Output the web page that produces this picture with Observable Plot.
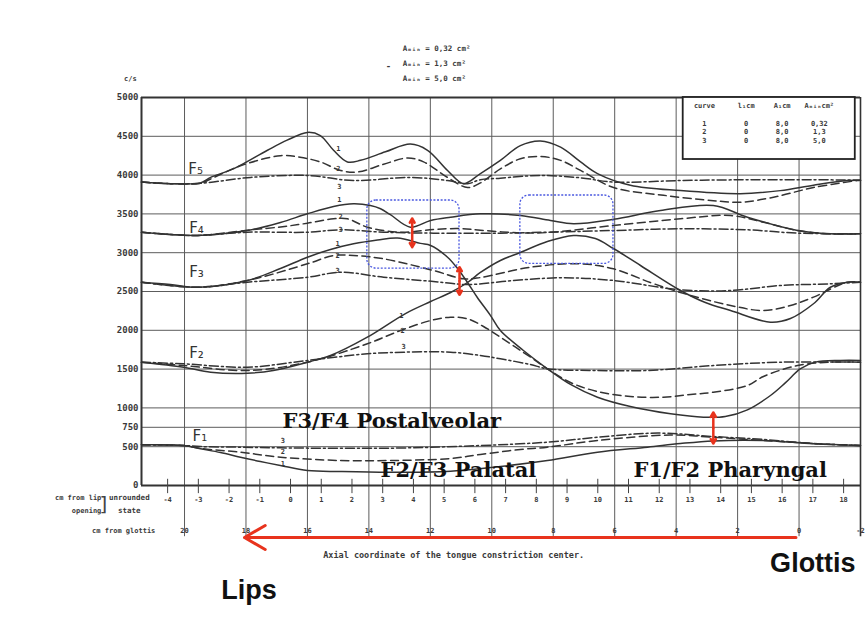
<!DOCTYPE html>
<html><head><meta charset="utf-8">
<script src="https://cdn.jsdelivr.net/npm/d3@7"></script>
<script src="https://cdn.jsdelivr.net/npm/@observablehq/plot@0.6"></script>
<style>html,body{margin:0;padding:0;background:#fff;}</style>
</head><body><div id="chart"></div>
<script>
// ---- scale ticks (x in cm from glottis, y in c/s) ----
const yTicks = [0, 500, 750, 1000, 1500, 2000, 2500, 3000, 3500, 4000, 4500, 5000];
const glottisTicks = [20, 18, 16, 14, 12, 10, 8, 6, 4, 2, 0, -2];
const lipTicks = [-4,-3,-2,-1,0,1,2,3,4,5,6,7,8,9,10,11,12,13,14,15,16,17,18];
const LIP_ZERO = 16.55; // cm from glottis where lip coordinate is 0

// ---- formant curves: [cm from glottis, c/s] ; curve 1 solid, 2 dashed, 3 dash-dot ----
const F5_1 = [[21.4,3910],[20.46,3890],[19.48,3900],[19.15,3970],[18.41,4080],[17.3,4320],[16.66,4450],[16.0,4550],[15.58,4510],[15.15,4320],[14.7,4170],[14.27,4190],[13.46,4300],[12.65,4400],[12.09,4320],[11.44,4060],[10.92,3890],[10.37,4020],[9.72,4190],[9.07,4380],[8.42,4440],[7.76,4360],[7.11,4170],[6.56,4020],[5.49,3870],[3.86,3800],[1.91,3760],[0.61,3800],[-0.47,3870],[-1.57,3930],[-2.0,3935]];
const F5_2 = [[21.4,3910],[20.46,3890],[19.48,3895],[19.15,3950],[18.18,4120],[16.88,4250],[16.24,4230],[15.58,4170],[14.92,4060],[14.37,4040],[13.52,4140],[12.74,4220],[12.22,4170],[11.44,3970],[10.79,3840],[10.37,3900],[9.72,4080],[9.07,4210],[8.42,4240],[7.76,4190],[7.11,4060],[6.04,3840],[4.41,3740],[2.79,3670],[1.91,3650],[0.83,3715],[-0.47,3840],[-1.9,3930],[-2.0,3935]];
const F5_3 = [[21.4,3910],[20.46,3890],[19.48,3895],[17.85,3970],[16.0,3995],[14.5,3930],[12.65,3970],[11.44,3930],[10.79,3890],[10.37,3940],[9.72,3960],[8.42,3995],[7.11,3965],[6.04,3910],[3.86,3930],[1.68,3940],[-0.47,3940],[-2.0,3935]];
const F4_1 = [[21.4,3264],[20.46,3235],[19.58,3222],[17.95,3286],[16.88,3389],[16.0,3501],[15.15,3595],[14.5,3630],[13.95,3608],[13.62,3566],[13.3,3490],[12.65,3329],[11.99,3415],[11.34,3457],[10.37,3501],[9.07,3480],[8.09,3415],[7.34,3372],[6.04,3430],[4.51,3544],[2.79,3608],[1.68,3457],[0.05,3286],[-1.02,3243],[-2.0,3243]];
const F4_2 = [[21.4,3264],[20.46,3235],[19.58,3222],[17.95,3290],[16.81,3335],[16.0,3380],[15.15,3437],[14.7,3437],[14.05,3329],[12.97,3264],[11.9,3300],[11.02,3310],[10.37,3290],[9.07,3255],[8.19,3260],[6.04,3350],[3.86,3437],[2.23,3479],[1.16,3393],[0.05,3286],[-1.02,3243],[-2.0,3243]];
const F4_3 = [[21.4,3264],[20.46,3235],[19.58,3222],[17.95,3264],[16.0,3264],[14.92,3295],[13.52,3264],[11.9,3252],[9.72,3252],[8.19,3264],[6.04,3286],[3.86,3308],[1.68,3295],[0.05,3252],[-2.0,3243]];
const F3_1 = [[21.4,2620],[20.46,2590],[19.58,2555],[17.95,2642],[16.88,2796],[16.0,2942],[15.25,3041],[14.5,3114],[13.72,3164],[13.07,3190],[12.32,3120],[11.99,3093],[11.44,2942],[11.12,2800],[10.79,2616],[10.47,2423],[10.04,2190],[9.72,1997],[8.97,1740],[8.19,1504],[7.44,1302],[6.56,1138],[5.49,1018],[4.18,924],[3.11,880],[2.4,889],[1.68,975],[0.93,1160],[0.44,1325],[-0.05,1505],[-0.53,1590],[-1.35,1611],[-2.0,1611]];
const F3_2 = [[21.4,2620],[19.58,2555],[17.95,2642],[16.0,2857],[15.15,2964],[14.5,2964],[13.52,2921],[11.9,2771],[10.92,2664],[10.37,2680],[8.74,2813],[7.11,2857],[6.04,2792],[4.84,2616],[3.86,2487],[2.23,2320],[1.16,2255],[0.28,2320],[-0.47,2427],[-1.57,2620],[-2.0,2620]];
const F3_3 = [[21.4,2620],[19.58,2555],[17.95,2620],[16.0,2684],[14.92,2749],[13.52,2684],[11.9,2629],[10.79,2590],[9.29,2642],[7.67,2677],[6.04,2642],[3.86,2522],[2.23,2513],[0.61,2577],[-1.02,2599],[-2.0,2620]];
const F2_1 = [[21.4,1589],[20.03,1525],[19.15,1460],[17.95,1447],[17.11,1482],[16.0,1589],[15.25,1675],[14.05,1911],[12.81,2216],[11.99,2371],[11.34,2487],[10.79,2616],[10.37,2745],[9.72,2900],[9.07,3003],[8.19,3144],[7.34,3222],[6.63,3183],[6.04,3054],[5.16,2835],[3.86,2513],[3.05,2358],[2.23,2255],[0.93,2105],[0.28,2152],[-0.47,2342],[-1.02,2555],[-1.57,2620],[-2.0,2620]];
const F2_2 = [[21.4,1589],[20.03,1546],[17.95,1482],[16.0,1589],[14.05,1826],[12.97,1997],[11.99,2126],[11.34,2169],[10.79,2148],[10.27,2049],[9.72,1911],[8.74,1654],[8.19,1504],[7.44,1327],[6.56,1211],[5.49,1147],[4.41,1138],[3.53,1173],[2.79,1202],[1.68,1289],[1.16,1405],[0.05,1546],[-1.02,1589],[-2.0,1589]];
const F2_3 = [[21.4,1589],[20.03,1568],[17.95,1525],[16.0,1611],[14.05,1697],[12.87,1718],[11.34,1718],[10.37,1675],[9.72,1633],[8.74,1559],[8.19,1504],[6.56,1482],[4.93,1482],[2.79,1546],[0.61,1589],[-2.0,1589]];
const F1_1 = [[21.4,524],[20.03,515],[19.48,473],[18.83,425],[18.18,365],[17.53,309],[16.88,258],[16.0,193],[14.92,180],[13.3,171],[11.34,185],[9.72,245],[8.19,322],[6.56,429],[4.93,494],[3.86,541],[2.79,575],[1.16,580],[-0.47,537],[-2.0,515]];
const F1_2 = [[21.4,524],[20.03,515],[19.48,477],[18.18,429],[16.88,365],[14.92,322],[13.3,322],[11.34,348],[10.37,400],[9.07,464],[8.19,494],[6.56,580],[4.2,650],[2.79,622],[1.16,580],[-0.47,541],[-2.0,515]];
const F1_3 = [[21.4,524],[20.03,515],[19.48,502],[18.18,494],[16.88,485],[13.3,481],[10.37,515],[8.19,558],[6.56,622],[4.6,675],[2.79,631],[1.16,593],[-0.47,541],[-2.0,515]];

const series = [
  ["F5",1,F5_1],["F5",2,F5_2],["F5",3,F5_3],
  ["F4",1,F4_1],["F4",2,F4_2],["F4",3,F4_3],
  ["F3",1,F3_1],["F3",2,F3_2],["F3",3,F3_3],
  ["F2",1,F2_1],["F2",2,F2_2],["F2",3,F2_3],
  ["F1",1,F1_1],["F1",2,F1_2],["F1",3,F1_3]
];

// ---- labels ----
const formantLabels = [["F₅",19.64,4081],["F₄",19.61,3312],["F₃",19.61,2745],["F₂",19.61,1701],["F₁",19.5,640]];
const curveNumbers = [["1",14.99,4339],["2",14.99,4081],["3",14.96,3844],
  ["1",14.96,3681],["2",14.92,3466],["3",14.92,3295],
  ["1",15.02,3114],["2",15.02,2964],["3",15.02,2771],
  ["1",12.94,2191],["2",12.9,1997],["3",12.87,1782],
  ["3",16.8,580],["2",16.8,429],["1",16.8,280]];
const legendLines = [["Aₘᵢₙ = 0,32 cm²",5631],["Aₘᵢₙ = 1,3 cm²",5442],["Aₘᵢₙ = 5,0 cm²",5249]];
const tableHeader = ["curve","l₁cm","A₁cm","Aₘᵢₙcm²"];
const tableRows = [["1","0","8,0","0,32"],["2","0","8,0","1,3"],["3","0","8,0","5,0"]];
const regionBoxes = [[14.05,11.05,2796,3673],[9.07,6.04,2857,3737]];
const gapArrows = [[12.59,3071,3441],[11.05,2457,2813],[2.79,541,941]];
const notes = [["F3/F4 Postalveolar",16.81,825],["F2/F3 Palatal",13.62,193],["F1/F2 Pharyngal",5.39,193]];
const ends = [["Lips",17.9,-1353],["Glottis",-0.45,-1005]];

// ---- build ----
const rows = series.flatMap(([f,c,pts]) => pts.map(([x,y]) => ({x, y, key: f + "-" + c, curve: c})));
const X_LEFT = 21.4, X_RIGHT = -2, Y_EXT = -660;
const INK = "#333", GRID = "#5c5c5c", RED = "#e8331d", MONO = "DejaVu Sans Mono";
const dashes = {1: null, 2: "8,4.5", 3: "9,3,2,3"};

const colX = [3.08, 1.72, 0.55, -0.66];
const tableTexts = [
  ...tableHeader.map((t,i) => ({t, x: colX[i], y: 4897})),
  ...tableRows.flatMap((r,j) => r.map((t,i) => ({t, x: colX[i], y: [4665,4555,4446][j]})))
];

const smallText = {fontFamily: MONO, fontWeight: "bold", fill: "#3a3a3a"};

const plot = Plot.plot({
  width: 868, height: 621,
  marginLeft: 141, marginRight: 8, marginTop: 97, marginBottom: 136,
  x: {domain: [X_LEFT, X_RIGHT], axis: null},
  y: {domain: [0, 5000], axis: null},
  style: {background: "#fff", fontFamily: "DejaVu Sans"},
  marks: [
    // grid
    Plot.ruleY(yTicks.filter(v => v > 0 && v < 5000), {y: d => d, x1: () => X_LEFT, x2: () => X_RIGHT, stroke: GRID, strokeWidth: 1}),
    Plot.ruleX(glottisTicks.filter(v => v > -2), {x: d => d, y1: () => Y_EXT, y2: () => 5000, stroke: GRID, strokeWidth: 1}),
    Plot.ruleX([X_RIGHT], {x: d => d, y1: () => Y_EXT, y2: () => 5000, stroke: "#333", strokeWidth: 1.6}),
    Plot.ruleX([X_LEFT], {x: d => d, y1: () => 0, y2: () => 5000, stroke: "#333", strokeWidth: 2}),
    Plot.ruleY([0, 5000], {y: d => d, x1: () => X_LEFT, x2: () => X_RIGHT, stroke: "#333", strokeWidth: 2}),
    // lip ticks
    Plot.ruleX(lipTicks, {x: c => LIP_ZERO - c, y1: () => 80, y2: () => -105, stroke: "#444", strokeWidth: 1}),
    Plot.text(lipTicks, {x: c => LIP_ZERO - c, y: () => -190, text: c => String(c), fontSize: 7, ...smallText}),
    Plot.text(glottisTicks, {x: d => d, y: () => -580, text: d => String(d), fontSize: 7, ...smallText}),
    Plot.text(yTicks, {x: () => X_LEFT, y: d => d, text: d => String(d), textAnchor: "end", dx: -3, fontSize: 9, ...smallText}),
    Plot.text(["c/s"], {x: () => 21.76, y: () => 5245, text: d => d, fontSize: 7, ...smallText}),
    Plot.text(["cm from lip", "opening"], {x: () => 20.95, y: (d,i) => i ? -320 : -160, text: d => d, textAnchor: "end", dx: -54, fontSize: 7, ...smallText}),
    Plot.text(["unrounded", "state"], {x: () => 20.95, y: (d,i) => i ? -320 : -160, text: d => d, textAnchor: "middle", dx: -26, fontSize: 7.5, ...smallText}),
    Plot.text(["]"], {x: () => 20.95, y: () => -240, text: d => d, dx: -52, fontSize: 20, fontFamily: "DejaVu Sans", fontWeight: "normal", fill: "#444"}),
    Plot.text(["cm from glottis"], {x: () => 20.95, y: () => -580, text: d => d, textAnchor: "end", fontSize: 7, ...smallText}),
    Plot.text(["Axial coordinate of the tongue constriction center."], {x: () => 11.24, y: () => -900, text: d => d, fontSize: 8.5, ...smallText}),
    // curves
    ...[1,2,3].map(c => Plot.line(rows.filter(d => d.curve === c), {x: "x", y: "y", z: "key", curve: "catmull-rom", stroke: INK, strokeWidth: 1.5, strokeDasharray: dashes[c]})),
    // labels
    Plot.text(formantLabels, {x: d => d[1], y: d => d[2], text: d => d[0], fontSize: 15, fill: "#333", fontFamily: "DejaVu Sans"}),
    Plot.text(curveNumbers, {x: d => d[1], y: d => d[2], text: d => d[0], fontSize: 7, ...smallText}),
    // legend
    Plot.text(legendLines, {x: () => 12.9, y: d => d[1], text: d => d[0], textAnchor: "start", fontSize: 7.5, ...smallText}),
    Plot.text(["-"], {x: () => 13.36, y: () => 5400, text: d => d, fontSize: 9, ...smallText}),
    // table
    Plot.rect([0], {x1: () => 3.77, x2: () => -1.83, y1: () => 4201, y2: () => 5000, fill: "white", stroke: "#222", strokeWidth: 1.8}),
    Plot.text(tableTexts, {x: "x", y: "y", text: "t", fontSize: 7, ...smallText}),
    // highlight boxes and arrows
    Plot.rect(regionBoxes, {x1: d => d[0], x2: d => d[1], y1: d => d[2], y2: d => d[3], fill: "none", stroke: "#4a58e0", strokeWidth: 1.3, strokeDasharray: "2,1.6", rx: 9}),
    Plot.arrow(gapArrows, {x1: d => d[0], x2: d => d[0], y1: d => (d[1] + d[2]) / 2, y2: d => d[2], stroke: RED, strokeWidth: 2.5, headLength: 7}),
    Plot.arrow(gapArrows, {x1: d => d[0], x2: d => d[0], y1: d => (d[1] + d[2]) / 2, y2: d => d[1], stroke: RED, strokeWidth: 2.5, headLength: 7}),
    Plot.arrow([0], {x1: () => 0.1, x2: () => 18.05, y1: () => -670, y2: () => -670, stroke: RED, strokeWidth: 3, headLength: 12}),
    // annotations
    Plot.text(notes, {x: d => d[1], y: d => d[2], text: d => d[0], textAnchor: "start", fontSize: 21, fontWeight: "bold", fontFamily: "DejaVu Serif", fill: "#111"}),
    Plot.text(ends, {x: d => d[1], y: d => d[2], text: d => d[0], fontSize: 27, fontWeight: "bold", fontFamily: "Liberation Sans", fill: "#111"})
  ]
});
document.getElementById("chart").appendChild(plot);
</script></body></html>
